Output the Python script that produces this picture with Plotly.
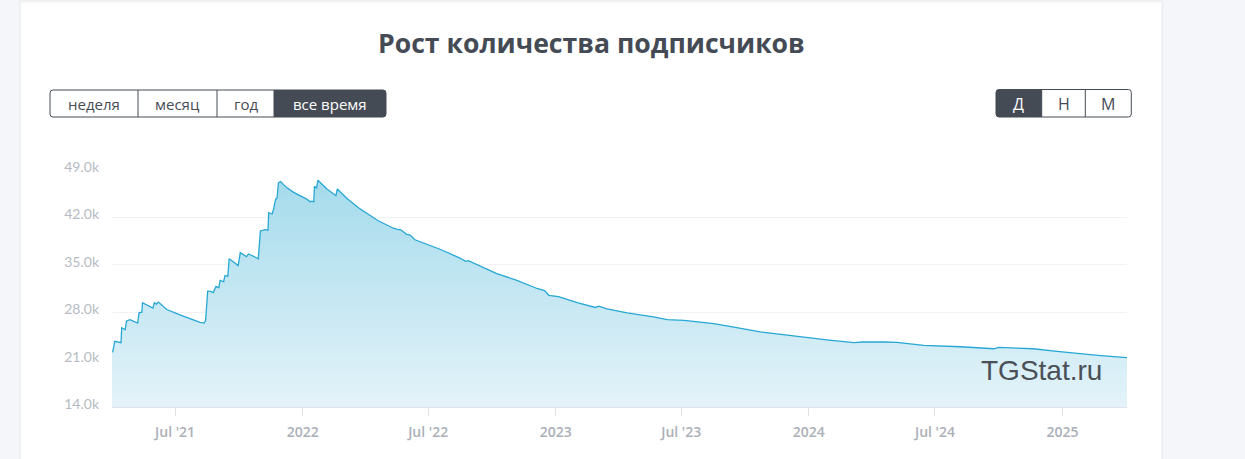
import plotly.graph_objects as go

# ---------------- data ----------------
dates = [
    "2021-04-01", "2021-04-02", "2021-04-05", "2021-04-12", "2021-04-14", "2021-04-15",
    "2021-04-20", "2021-04-22", "2021-04-27", "2021-05-08", "2021-05-10", "2021-05-14",
    "2021-05-15", "2021-05-30", "2021-06-01", "2021-06-04", "2021-06-07", "2021-06-19",
    "2021-07-08", "2021-08-06", "2021-08-12", "2021-08-14", "2021-08-17", "2021-08-20",
    "2021-08-25", "2021-08-29", "2021-09-02", "2021-09-04", "2021-09-09", "2021-09-11",
    "2021-09-15", "2021-09-17", "2021-09-30", "2021-10-03", "2021-10-12", "2021-10-15",
    "2021-10-29", "2021-11-01", "2021-11-08", "2021-11-12", "2021-11-13", "2021-11-18",
    "2021-11-20", "2021-11-23", "2021-11-25", "2021-11-27", "2021-11-30", "2021-12-09",
    "2021-12-19", "2022-01-07", "2022-01-12", "2022-01-14", "2022-01-17", "2022-01-18",
    "2022-01-21", "2022-01-23", "2022-02-05", "2022-02-18", "2022-02-20", "2022-03-06",
    "2022-03-23", "2022-04-20", "2022-05-12", "2022-05-19", "2022-05-22", "2022-05-31",
    "2022-06-05", "2022-06-12", "2022-07-18", "2022-08-16", "2022-08-24", "2022-08-28",
    "2022-10-08", "2022-11-06", "2022-12-05", "2022-12-16", "2022-12-22", "2023-01-05",
    "2023-02-01", "2023-02-27", "2023-03-04", "2023-03-16", "2023-04-14", "2023-05-22",
    "2023-06-11", "2023-07-05", "2023-08-17", "2023-09-15", "2023-10-23", "2023-12-01",
    "2023-12-20", "2024-01-27", "2024-03-06", "2024-03-20", "2024-04-18", "2024-05-07",
    "2024-06-15", "2024-08-07", "2024-09-24", "2024-10-01", "2024-11-20", "2024-12-24",
    "2025-02-25", "2025-04-04",
]
subscribers = [
    22200, 22100, 23700, 23600, 23500, 25700,
    25400, 26700, 26900, 26400, 27900, 28000,
    29400, 28600, 29400, 29200, 29500, 28400,
    27600, 26500, 26400, 26800, 31100, 31100,
    30900, 31800, 31600, 32700, 32500, 33400,
    33300, 35900, 34900, 36800, 36200, 36600,
    35900, 40000, 40200, 40100, 42700, 42500,
    43200, 44700, 44800, 47100, 47300, 46400,
    45700, 44700, 44300, 44400, 44300, 46600,
    46300, 47500, 46200, 45200, 46200, 44800,
    43400, 41500, 40400, 40200, 40200, 39500,
    39400, 38700, 37300, 36000, 35500, 35600,
    33700, 32700, 31500, 31200, 30500, 30300,
    29400, 28700, 28900, 28500, 27900, 27300,
    26900, 26800, 26300, 25800, 25100, 24600,
    24350, 23900, 23500, 23600, 23600, 23550,
    23100, 22900, 22600, 22800, 22600, 22200,
    21600, 21300,
]

y_tick_values = [14000, 21000, 28000, 35000, 42000, 49000]
y_tick_labels = ["14.0k", "21.0k", "28.0k", "35.0k", "42.0k", "49.0k"]
x_tick_values = ["2021-07-01", "2022-01-01", "2022-07-01", "2023-01-01",
                 "2023-07-01", "2024-01-01", "2024-07-01", "2025-01-01"]
x_tick_labels = ["Jul '21", "2022", "Jul '22", "2023", "Jul '23", "2024", "Jul '24", "2025"]

title_text = "Рост количества подписчиков"
period_buttons = ["неделя", "месяц", "год", "все время"]
scale_buttons = ["Д", "Н", "М"]
watermark = "TGStat.ru"

# ---------------- layout geometry (pixels) ----------------
W, H = 1245, 459
L, R, T, B = 112, 1127, 170, 407


def px(x):
    return (x - L) / (R - L)


def py(y):
    return (B - y) / (B - T)


def rrect(x0, y0, x1, y1, rl, rr):
    """rounded rectangle path in pixel coords (rl: left radius, rr: right radius)"""
    pts = []
    pts.append(f"M {px(x0 + rl)},{py(y0)}")
    pts.append(f"L {px(x1 - rr)},{py(y0)}")
    if rr:
        pts.append(f"Q {px(x1)},{py(y0)} {px(x1)},{py(y0 + rr)}")
    pts.append(f"L {px(x1)},{py(y1 - rr)}")
    if rr:
        pts.append(f"Q {px(x1)},{py(y1)} {px(x1 - rr)},{py(y1)}")
    pts.append(f"L {px(x0 + rl)},{py(y1)}")
    if rl:
        pts.append(f"Q {px(x0)},{py(y1)} {px(x0)},{py(y1 - rl)}")
    pts.append(f"L {px(x0)},{py(y0 + rl)}")
    if rl:
        pts.append(f"Q {px(x0)},{py(y0)} {px(x0 + rl)},{py(y0)}")
    pts.append("Z")
    return " ".join(pts)


DARK = "#454b55"
LINE = "#27a7d4"

fig = go.Figure()
fig.add_trace(go.Scatter(
    x=dates, y=subscribers, mode="lines",
    line=dict(color=LINE, width=1.3),
    fill="tozeroy",
    fillgradient=dict(type="vertical", start=14000, stop=47500,
                      colorscale=[[0, "#e4f3f9"], [1, "#a5dbec"]]),
    hoverinfo="x+y", showlegend=False,
))

shapes = []
# white card
shapes.append(dict(type="rect", xref="paper", yref="paper", layer="below",
                   x0=px(20), x1=px(1162), y0=py(0), y1=py(H + 5),
                   fillcolor="white", line=dict(width=0)))
for xx in (20, 1162):
    shapes.append(dict(type="line", xref="paper", yref="paper", layer="below",
                       x0=px(xx), x1=px(xx), y0=py(0), y1=py(H + 5),
                       line=dict(color="#e4e6ea", width=1)))
# top shadow
for i, c in enumerate(["#ededf0", "#f3f4f6", "#f8f9fa", "#fcfcfd"]):
    shapes.append(dict(type="rect", xref="paper", yref="paper", layer="below",
                       x0=px(21), x1=px(1161.5), y0=py(i), y1=py(i + 1),
                       fillcolor=c, line=dict(width=0)))

# period buttons
lx = [50, 138, 217, 274, 386]
shapes.append(dict(type="path", xref="paper", yref="paper",
                   path=rrect(274, 90, 386, 117, 0, 3),
                   fillcolor=DARK, line=dict(width=0)))
shapes.append(dict(type="path", xref="paper", yref="paper",
                   path=rrect(50, 90, 386, 117, 3, 3),
                   fillcolor="rgba(0,0,0,0)", line=dict(color=DARK, width=1)))
for xx in lx[1:-1]:
    shapes.append(dict(type="line", xref="paper", yref="paper",
                       x0=px(xx), x1=px(xx), y0=py(90), y1=py(117),
                       line=dict(color=DARK, width=1)))
# scale buttons
rx = [996, 1041.7, 1085.3, 1131.3]
shapes.append(dict(type="path", xref="paper", yref="paper",
                   path=rrect(996, 89.5, 1041.7, 117, 3, 0),
                   fillcolor=DARK, line=dict(width=0)))
shapes.append(dict(type="path", xref="paper", yref="paper",
                   path=rrect(996, 89.5, 1131.3, 117, 3, 3),
                   fillcolor="rgba(0,0,0,0)", line=dict(color=DARK, width=1)))
for xx in rx[1:-1]:
    shapes.append(dict(type="line", xref="paper", yref="paper",
                       x0=px(xx), x1=px(xx), y0=py(89.5), y1=py(117),
                       line=dict(color=DARK, width=1)))

annotations = []
annotations.append(dict(text=f"<b>{title_text}</b>", xref="paper", yref="paper",
                        x=px(591.5), y=py(43), xanchor="center", yanchor="middle",
                        showarrow=False,
                        font=dict(family="Open Sans", size=26.6, color=DARK)))
for i, lab in enumerate(period_buttons):
    active = i == len(period_buttons) - 1
    annotations.append(dict(text=lab, xref="paper", yref="paper",
                            x=px((lx[i] + lx[i + 1]) / 2), y=py(103.5),
                            xanchor="center", yanchor="middle", showarrow=False,
                            font=dict(family="Open Sans", size=15,
                                      color="white" if active else DARK)))
for i, lab in enumerate(scale_buttons):
    active = i == 0
    annotations.append(dict(text=lab, xref="paper", yref="paper",
                            x=px((rx[i] + rx[i + 1]) / 2), y=py(103.5),
                            xanchor="center", yanchor="middle", showarrow=False,
                            font=dict(family="Open Sans", size=16,
                                      color="white" if active else DARK)))
annotations.append(dict(text=watermark, xref="paper", yref="paper",
                        x=px(1104), y=py(370), xanchor="right", yanchor="middle",
                        showarrow=False,
                        font=dict(family="Liberation Sans", size=28, color="#4b5057")))

fig.update_layout(
    width=W, height=H,
    margin=dict(l=L, r=W - R, t=T, b=H - B, pad=0),
    paper_bgcolor="#f5f6f9",
    plot_bgcolor="rgba(0,0,0,0)",
    shapes=shapes,
    annotations=annotations,
    showlegend=False,
    xaxis=dict(
        type="date",
        range=[dates[0], dates[-1]],
        tickvals=x_tick_values, ticktext=x_tick_labels,
        showgrid=False, zeroline=False,
        showline=True, linecolor="#dfe2e7", linewidth=1,
        ticks="outside", ticklen=8, tickcolor="#dfe2e7", tickwidth=1,
        tickfont=dict(family="Open Sans", size=14, color="#abb0b8", weight=600),
        ticklabelstandoff=4,
    ),
    yaxis=dict(
        range=[14000, 49000],
        tickvals=y_tick_values, ticktext=y_tick_labels,
        showgrid=True, gridcolor="#f1f2f5", gridwidth=1,
        zeroline=False, showline=False, ticks="",
        tickfont=dict(family="Lato", size=14, color="#b6bbc3"),
        ticklabelstandoff=12,
        ticklabelshift=-3,
    ),
)

fig.write_html(
    "out.html",
    config={"displayModeBar": False},
    post_script="document.body.style.margin='0';document.body.style.overflow='hidden';",
)
